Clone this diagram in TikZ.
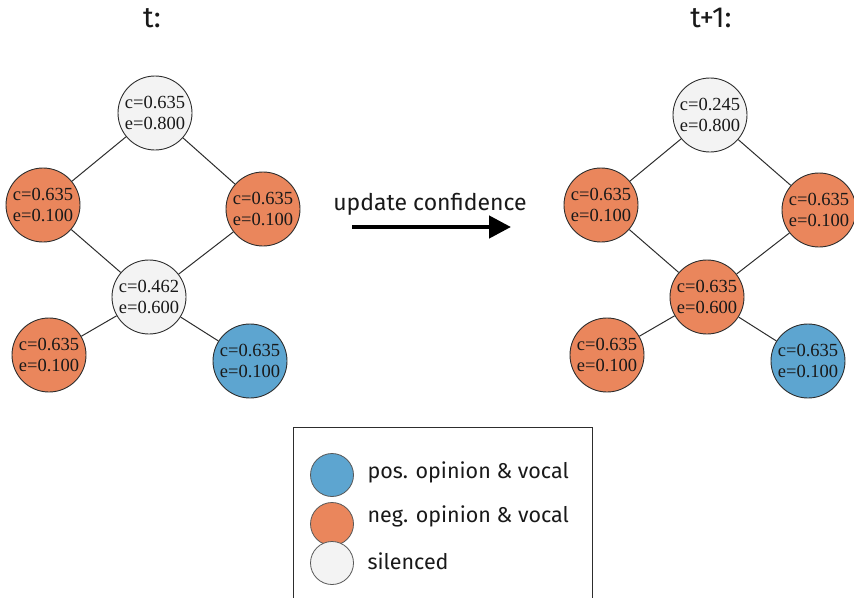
\documentclass[tikz,border=0pt]{standalone}
\usepackage{fontspec}
\setmainfont{Liberation Serif}
\newfontfamily\labfont{Fira Sans}
\usetikzlibrary{arrows.meta}
\definecolor{negc}{RGB}{234,134,92}
\definecolor{posc}{RGB}{93,165,208}
\definecolor{silc}{RGB}{243,243,243}
\definecolor{txtc}{RGB}{25,25,25}
\definecolor{edgec}{RGB}{45,45,45}
\begin{document}
\begin{tikzpicture}[x=1pt,y=-1pt,
  agent/.style={circle,draw=edgec,line width=0.9pt,minimum size=74pt,inner sep=0pt,
    align=center,font=\fontsize{18.5}{21.5}\selectfont,text=txtc},
  negnode/.style={agent,fill=negc},
  posnode/.style={agent,fill=posc},
  silnode/.style={agent,fill=silc},
  linkline/.style={draw=edgec,line width=1pt},
  ttl/.style={font=\labfont\fontsize{29}{32}\selectfont,text=txtc},
  legcirc/.style={circle,draw=edgec!80,line width=0.8pt,minimum size=43pt,inner sep=0pt},
  legtext/.style={font=\labfont\fontsize{21.5}{25}\selectfont,text=txtc,anchor=west}
]
\useasboundingbox (0,0) rectangle (854,597);
% titles
\node[ttl] (tt) at (152,18) {t:};
\node[ttl] (tt1) at (711,18) {t+1:};
% left graph
\node[silnode] (a1) at (155,113) {c=0.635\\e=0.800};
\node[negnode] (b1) at (43,205) {c=0.635\\e=0.100};
\node[negnode] (c1) at (263,209) {c=0.635\\e=0.100};
\node[silnode] (d1) at (149,297) {c=0.462\\e=0.600};
\node[negnode] (e1) at (49,355) {c=0.635\\e=0.100};
\node[posnode] (f1) at (250,361) {c=0.635\\e=0.100};
% right graph
\node[silnode] (a2) at (710,115) {c=0.245\\e=0.800};
\node[negnode] (b2) at (601,205) {c=0.635\\e=0.100};
\node[negnode] (c2) at (819,210) {c=0.635\\e=0.100};
\node[negnode] (d2) at (707,297) {c=0.635\\e=0.600};
\node[negnode] (e2) at (607,355) {c=0.635\\e=0.100};
\node[posnode] (f2) at (808,361) {c=0.635\\e=0.100};
\foreach \s in {1,2}{
  \draw[linkline] (a\s) -- (b\s);
  \draw[linkline] (a\s) -- (c\s);
  \draw[linkline] (b\s) -- (d\s);
  \draw[linkline] (c\s) -- (d\s);
  \draw[linkline] (d\s) -- (e\s);
  \draw[linkline] (d\s) -- (f\s);
}
% arrow
\coordinate (arS) at (352,227);
\coordinate (arE) at (511,227);
\draw[line width=4.5pt,-{Triangle[length=22pt,width=22pt]}] (arS) -- (arE);
\node[font=\labfont\fontsize{23}{26}\selectfont,text=txtc] (upd) at (430,204) {update confidence};
% legend
\draw[edgec,line width=1pt] (293,600) -- (293,427) -- (592,427) -- (592,600);
\node[legcirc,fill=posc] (l1) at (332,475) {};
\node[legcirc,fill=negc] (l2) at (332,524) {};
\node[legcirc,fill=silc] (l3) at (332,563) {};
\node[legtext] (t1) at (364,472) {pos. opinion \& vocal};
\node[legtext] (t2) at (364,516) {neg. opinion \& vocal};
\node[legtext] (t3) at (364,561) {silenced};
\end{tikzpicture}
\end{document}
